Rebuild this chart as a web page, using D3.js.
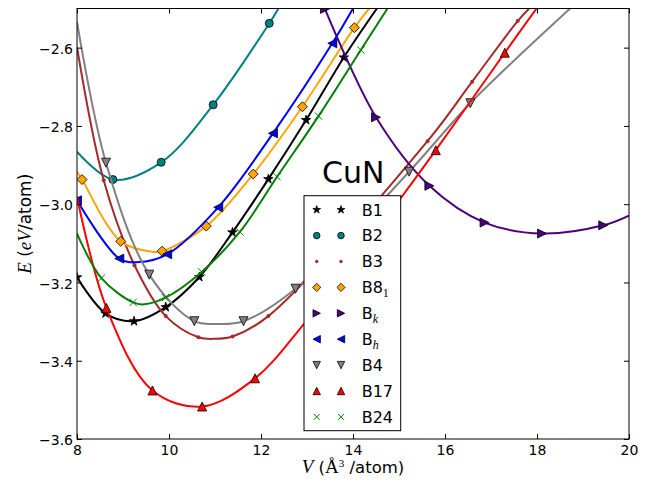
<!DOCTYPE html>
<html>
<head>
<meta charset="utf-8">
<script src="https://cdn.jsdelivr.net/npm/d3@7"></script>
<style>
  body { margin: 0; background: #fff; }
  svg { display: block; }
</style>
</head>
<body>
<svg id="chart" width="662" height="487"></svg>
<script>
// Computed volumes (Å^3/atom) and total energies (eV/atom) per CuN structure
const volB1 = [8.00, 8.62, 9.24, 9.93, 10.66, 11.38, 12.16, 12.98, 13.80];
const energyB1 = [-3.187, -3.279, -3.299, -3.263, -3.186, -3.072, -2.936, -2.785, -2.625];

const volB2 = [8.78, 9.83, 10.96, 12.18];
const energyB2 = [-2.937, -2.893, -2.746, -2.538];

const volB3 = [8.58, 9.25, 9.93, 10.64, 11.38, 12.16, 15.62, 16.59, 17.58];
const energyB3 = [-2.939, -3.156, -3.286, -3.340, -3.338, -3.286, -2.839, -2.687, -2.532];

const volB81 = [8.11, 8.95, 9.85, 10.81, 11.83, 12.90, 14.03];
const energyB81 = [-2.937, -3.095, -3.120, -3.056, -2.923, -2.751, -2.549];

const volBk = [13.39, 14.50, 15.66, 16.86, 18.11, 19.44];
const energyBk = [-2.501, -2.778, -2.953, -3.047, -3.075, -3.054];

const volBh = [8.00, 8.92, 9.96, 11.07, 12.26, 13.55];
const energyBh = [-2.990, -3.139, -3.128, -3.008, -2.819, -2.589];

const volB4 = [8.63, 9.57, 10.55, 11.62, 12.75, 15.22, 16.55];
const energyB4 = [-2.894, -3.180, -3.299, -3.299, -3.216, -2.917, -2.742];

const volB17 = [8.64, 9.64, 10.72, 11.87, 15.80, 17.30];
const energyB17 = [-3.265, -3.476, -3.517, -3.445, -2.862, -2.613];

const volB24 = [8.53, 9.22, 9.92, 10.71, 11.54, 12.35, 13.25, 14.17];
const energyB24 = [-3.189, -3.251, -3.239, -3.173, -3.071, -2.930, -2.775, -2.606];

// Further [V, E] points along each fitted equation-of-state curve
const fitB1 = [[14.52, -2.500]];
const fitB2 = [[8.00, -2.866], [12.38, -2.500]];
const fitB3 = [[8.00, -2.599], [11.00, -3.344], [17.83, -2.500]];
const fitB81 = [[8.00, -2.917], [9.67, -3.122], [14.35, -2.500]];
const fitBk = [[20.00, -3.029]];
const fitBh = [[9.33, -3.148], [14.00, -2.500]];
const fitB4 = [[8.00, -2.534], [11.06, -3.306], [18.72, -2.500]];
const fitB17 = [[8.00, -2.981], [12.94, -3.305], [15.06, -2.981], [17.99, -2.500]];
const fitB24 = [[8.00, -3.075], [9.46, -3.256], [14.75, -2.500]];

// Axis ticks
const xTicks = [8, 10, 12, 14, 16, 18, 20];
const yTicks = [-3.6, -3.4, -3.2, -3.0, -2.8, -2.6];

const series = [
  { name: "B1",  vol: volB1,  energy: energyB1,  fit: fitB1,  color: "#000000", marker: "star" },
  { name: "B2",  vol: volB2,  energy: energyB2,  fit: fitB2,  color: "#008080", marker: "circle" },
  { name: "B3",  vol: volB3,  energy: energyB3,  fit: fitB3,  color: "#a52a2a", marker: "dot" },
  { name: "B8",  sub: "1", subItalic: false, vol: volB81, energy: energyB81, fit: fitB81, color: "#ffa500", marker: "diamond" },
  { name: "B",   sub: "k", subItalic: true,  vol: volBk,  energy: energyBk,  fit: fitBk,  color: "#4b0082", marker: "triRight" },
  { name: "B",   sub: "h", subItalic: true,  vol: volBh,  energy: energyBh,  fit: fitBh,  color: "#0000ff", marker: "triLeft" },
  { name: "B4",  vol: volB4,  energy: energyB4,  fit: fitB4,  color: "#808080", marker: "triDown" },
  { name: "B17", vol: volB17, energy: energyB17, fit: fitB17, color: "#ff0000", marker: "triUp" },
  { name: "B24", vol: volB24, energy: energyB24, fit: fitB24, color: "#008000", marker: "cross" }
];

const svg = d3.select("#chart");
const pLeft = 77, pRight = 629, pTop = 8.5, pBottom = 439;

const x = d3.scaleLinear().domain([8, 20]).range([pLeft, pRight]);
const y = d3.scaleLinear().domain([-3.6, -2.5]).range([pBottom, pTop]);

const sans = "'DejaVu Sans', sans-serif";
const serif = "'Liberation Serif', 'DejaVu Serif', serif";

svg.append("defs").append("clipPath").attr("id", "plotClip")
  .append("rect").attr("x", pLeft).attr("y", pTop)
  .attr("width", pRight - pLeft).attr("height", pBottom - pTop);

// Marker outlines, centred on the origin
function markerPath(type) {
  const p = d3.path();
  if (type === "star") {
    const R = 5.0, r = R * 0.382;
    for (let i = 0; i < 10; i++) {
      const rad = i % 2 === 0 ? R : r;
      const a = -Math.PI / 2 + i * Math.PI / 5;
      const px = rad * Math.cos(a), py = rad * Math.sin(a);
      if (i === 0) p.moveTo(px, py); else p.lineTo(px, py);
    }
    p.closePath();
  } else if (type === "circle") {
    p.arc(0, 0, 4, 0, 2 * Math.PI);
  } else if (type === "dot") {
    p.arc(0, 0, 2, 0, 2 * Math.PI);
  } else if (type === "diamond") {
    const s = 5;
    p.moveTo(0, -s); p.lineTo(s, 0); p.lineTo(0, s); p.lineTo(-s, 0); p.closePath();
  } else if (type === "triUp") {
    const s = 4.5;
    p.moveTo(0, -s); p.lineTo(s, s); p.lineTo(-s, s); p.closePath();
  } else if (type === "triDown") {
    const s = 4.5;
    p.moveTo(0, s); p.lineTo(s, -s); p.lineTo(-s, -s); p.closePath();
  } else if (type === "triLeft") {
    const s = 4.5;
    p.moveTo(-s, 0); p.lineTo(s, -s); p.lineTo(s, s); p.closePath();
  } else if (type === "triRight") {
    const s = 4.5;
    p.moveTo(s, 0); p.lineTo(-s, -s); p.lineTo(-s, s); p.closePath();
  } else if (type === "cross") {
    const s = 3.6;
    p.moveTo(-s, -s); p.lineTo(s, s); p.moveTo(-s, s); p.lineTo(s, -s);
  }
  return p.toString();
}

function drawMarker(g, s, cx, cy, k = 1) {
  const path = g.append("path")
    .attr("d", markerPath(s.marker))
    .attr("transform", `translate(${cx},${cy}) scale(${k})`);
  if (s.marker === "cross") {
    path.attr("fill", "none").attr("stroke", s.color).attr("stroke-width", 1 / k);
  } else if (s.marker === "dot") {
    path.attr("fill", s.color).attr("stroke", "none");
  } else {
    path.attr("fill", s.color).attr("stroke", "#000").attr("stroke-width", 0.8 / k);
  }
}

const plot = svg.append("g").attr("clip-path", "url(#plotClip)");

const line = d3.line()
  .x(d => x(d[0]))
  .y(d => y(d[1]))
  .curve(d3.curveCatmullRom.alpha(0.5));

series.forEach(s => {
  const pts = s.vol.map((v, i) => [v, s.energy[i]]);
  const curvePts = pts.concat(s.fit).sort((a, b) => a[0] - b[0]);
  plot.append("path")
    .attr("d", line(curvePts))
    .attr("fill", "none")
    .attr("stroke", s.color)
    .attr("stroke-width", 2);
  const mg = plot.append("g");
  pts.forEach(d => drawMarker(mg, s, x(d[0]), y(d[1])));
});

// Axes with inward ticks on all four sides
const fmtY = d => d3.format(".1f")(d).replace("-", "\u2212");

const gx = svg.append("g").attr("transform", `translate(0,${pBottom})`)
  .call(d3.axisBottom(x).tickValues(xTicks).tickSizeInner(-5).tickSizeOuter(0)
    .tickPadding(6.5).tickFormat(d3.format("d")));
const gy = svg.append("g").attr("transform", `translate(${pLeft},0)`)
  .call(d3.axisLeft(y).tickValues(yTicks).tickSizeInner(-5).tickSizeOuter(0)
    .tickPadding(4).tickFormat(fmtY));
const gt = svg.append("g").attr("transform", `translate(0,${pTop})`)
  .call(d3.axisTop(x).tickValues(xTicks).tickSizeInner(-5).tickSizeOuter(0).tickFormat(""));
const gr = svg.append("g").attr("transform", `translate(${pRight},0)`)
  .call(d3.axisRight(y).tickValues(yTicks).tickSizeInner(-5).tickSizeOuter(0).tickFormat(""));

[gx, gy, gt, gr].forEach(g => {
  g.select(".domain").remove();
  g.selectAll(".tick line").attr("stroke", "#000").attr("stroke-width", 1);
  g.selectAll("text").attr("font-family", sans).attr("font-size", 14).attr("fill", "#000");
});
gy.selectAll("text").attr("dy", "0.4em");

svg.append("rect")
  .attr("x", pLeft).attr("y", pTop)
  .attr("width", pRight - pLeft).attr("height", pBottom - pTop)
  .attr("fill", "none").attr("stroke", "#000").attr("stroke-width", 1);

// Compound name
svg.append("text")
  .attr("x", 322).attr("y", 183)
  .attr("font-family", sans).attr("font-size", 30)
  .text("CuN");

// Axis titles
const xl = svg.append("text")
  .attr("x", (pLeft + pRight) / 2).attr("y", 473)
  .attr("text-anchor", "middle")
  .attr("font-family", sans).attr("font-size", 16.5);
xl.append("tspan").attr("font-family", serif).attr("font-style", "italic").attr("font-size", 19).text("V");
xl.append("tspan").text(" (");
xl.append("tspan").attr("font-family", serif).attr("font-size", 19).text("Å");
xl.append("tspan").attr("font-family", serif).attr("font-size", 11).attr("dy", -6).text("3");
xl.append("tspan").attr("dy", 6).text(" /atom)");

const yl = svg.append("text")
  .attr("transform", `translate(30.5,${(pTop + pBottom) / 2}) rotate(-90)`)
  .attr("text-anchor", "middle")
  .attr("font-family", sans).attr("font-size", 17);
yl.append("tspan").attr("font-family", serif).attr("font-style", "italic").attr("font-size", 19).text("E");
yl.append("tspan").text(" (");
yl.append("tspan").attr("font-family", serif).attr("font-style", "italic").attr("font-size", 19).text("eV");
yl.append("tspan").text("/atom)");

// Legend
const lg = svg.append("g");
lg.append("rect")
  .attr("x", 304).attr("y", 195.7).attr("width", 96.7).attr("height", 235)
  .attr("fill", "#fff").attr("stroke", "#000").attr("stroke-width", 1);
series.forEach((s, i) => {
  const cy = 209.7 + i * 25.9;
  drawMarker(lg, s, 316.7, cy, 0.82);
  drawMarker(lg, s, 341, cy, 0.82);
  const t = lg.append("text")
    .attr("x", 361.7).attr("y", cy + 5.8)
    .attr("font-family", sans).attr("font-size", 16)
    .text(s.name);
  if (s.sub) {
    t.append("tspan")
      .attr("font-family", serif)
      .attr("font-style", s.subItalic ? "italic" : "normal")
      .attr("font-size", 12).attr("dy", 4)
      .text(s.sub);
  }
});
</script>
</body>
</html>
